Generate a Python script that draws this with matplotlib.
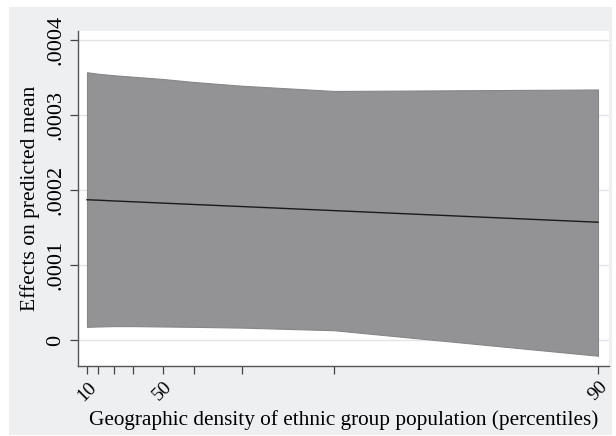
import matplotlib
matplotlib.use("Agg")
import matplotlib.pyplot as plt
from matplotlib.patches import Rectangle
import numpy as np

plt.rcParams['font.family'] = ['Liberation Serif', 'DejaVu Serif']

# percentile points and the density value each one sits at
percentiles = [10, 20, 30, 40, 50, 60, 70, 80, 90]
density = [1.0, 3.2, 6.4, 10.2, 16.2, 22.4, 32.0, 50.4, 103.2]
shown_labels = [10, 50, 90]

effect = [1.870e-4, 1.864e-4, 1.854e-4, 1.843e-4, 1.825e-4, 1.807e-4, 1.779e-4, 1.725e-4, 1.570e-4]
upper = [3.57e-4, 3.55e-4, 3.53e-4, 3.51e-4, 3.48e-4, 3.44e-4, 3.39e-4, 3.32e-4, 3.34e-4]
lower = [1.75e-5, 1.80e-5, 1.85e-5, 1.85e-5, 1.80e-5, 1.75e-5, 1.65e-5, 1.30e-5, -2.10e-5]

yticks = [0, 0.0001, 0.0002, 0.0003, 0.0004]
ytick_labels = ['0', '.0001', '.0002', '.0003', '.0004']

fig = plt.figure(figsize=(6.16, 4.36), dpi=100)
fig.patch.set_facecolor('white')
# light grey graph region behind the plot
fig.patches.append(Rectangle((9 / 616, 1 / 436), 603 / 616, 428 / 436,
                             transform=fig.transFigure, facecolor='#eeeff1',
                             edgecolor='none', zorder=-5))

ax = fig.add_axes([78 / 616, 1 - 366 / 436, 531 / 616, 335 / 436])
ax.set_zorder(1)
ax.set_facecolor('white')

ax.fill_between(density, lower, upper, facecolor='#939396', edgecolor='#86868a',
                linewidth=0.8, zorder=2)
ax.plot(density, effect, color='#1a1a1a', linewidth=1.0, zorder=3)

ax.set_xlim(-0.8, 105.4)
ax.set_ylim(-0.0000347, 0.000412)

ax.set_yticks(yticks)
ax.set_yticklabels(ytick_labels, rotation=90, va='center', fontsize=16)
ax.set_xticks(density)
ax.set_xticklabels([str(p) if p in shown_labels else '' for p in percentiles],
                   rotation=45, ha='center', va='top', fontsize=14)
ax.tick_params(axis='both', length=6, width=0.9, color='#444444')
ax.tick_params(axis='y', pad=3)
ax.tick_params(axis='x', pad=3)

ax.grid(axis='y', color='#e4e4e4', linewidth=1.0, zorder=0)
ax.set_axisbelow(True)

for side in ['top', 'right']:
    ax.spines[side].set_visible(False)
for side in ['left', 'bottom']:
    ax.spines[side].set_color('#555555')
    ax.spines[side].set_linewidth(1.0)

ax.set_ylabel('Effects on predicted mean', fontsize=15.5, labelpad=5)
ax.set_xlabel('Geographic density of ethnic group population (percentiles)', fontsize=15.3, labelpad=4)

fig.savefig('out.png', dpi=100)
